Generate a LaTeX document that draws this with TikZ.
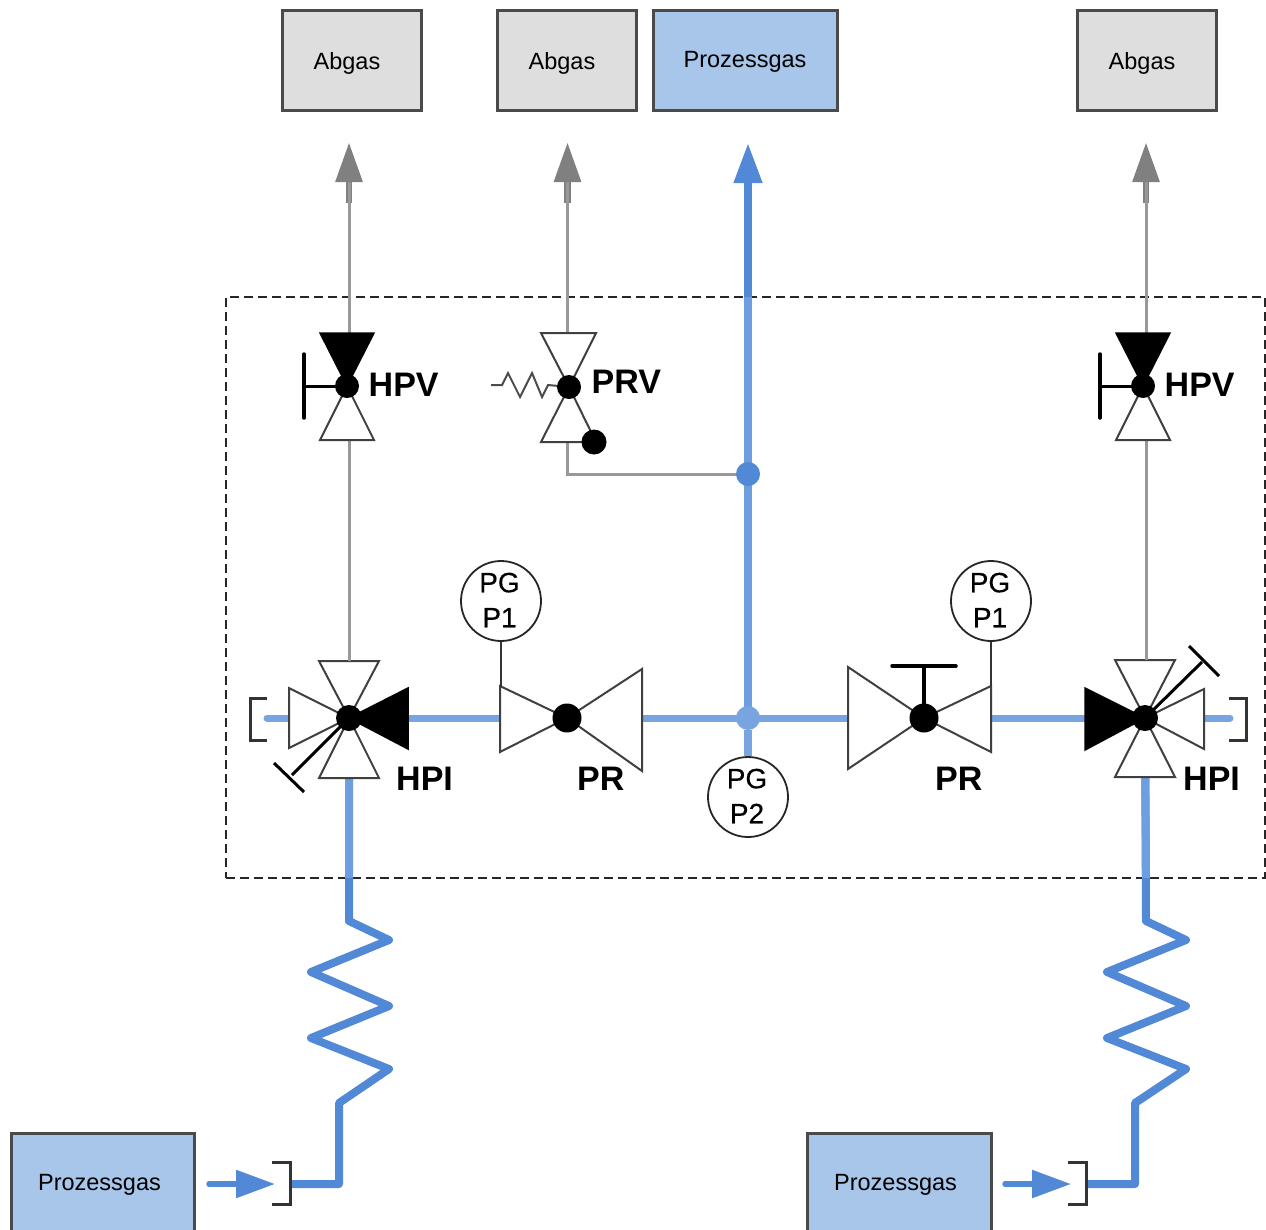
\documentclass[tikz,border=0pt]{standalone}
\usepackage{fontspec}
\setmainfont{Liberation Sans}
\newfontfamily\gaugefont[FakeBold=0.35]{Liberation Sans}
\usetikzlibrary{arrows.meta}
\definecolor{pipeL}{HTML}{78A5E0}
\definecolor{pipeM}{HTML}{6C9EE0}
\definecolor{pipeD}{HTML}{5289D6}
\definecolor{lineG}{HTML}{999999}
\definecolor{headG}{HTML}{808080}
\definecolor{boxG}{HTML}{DEDEDE}
\definecolor{boxB}{HTML}{A8C5EA}
\definecolor{edgeK}{HTML}{4A4A4A}
\definecolor{brk}{HTML}{333333}
\tikzset{
  box/.style={draw=edgeK,line width=3pt,minimum width=#1,minimum height=100pt,inner sep=0pt},
  gbox/.style={box=#1,fill=boxG},
  bbox/.style={box=#1,fill=boxB},
  boxtext/.style={inner sep=0pt,font=\fontsize{23.5}{28}\selectfont,text=black},
  tag/.style={inner sep=0pt,font=\fontsize{34}{40}\selectfont\bfseries,text=black},
  hub/.style={circle,fill=black,inner sep=0pt,minimum size=#1},
  gauge/.style={circle,draw=black!85,fill=white,line width=1.8pt,minimum size=80pt,inner sep=0pt},
  gtext/.style={inner sep=0pt,align=center,font=\fontsize{28}{35}\selectfont\gaugefont,text=black},
  tri/.style={draw=black!75,fill=white,line width=2pt,line join=miter},
  blk/.style={draw=black,fill=black,line width=1.5pt,line join=miter},
  thick pipe/.style={draw=pipeD,line width=8pt,line join=round},
  main pipe/.style={draw=pipeL,line width=7pt,line cap=round},
  vent/.style={draw=lineG,line width=3pt},
  stem/.style={draw=headG,line width=6.5pt},
  ventarrow/.style={vent,-{Triangle[length=39pt,width=27pt,color=headG]}},
  bluearrow/.style={draw=pipeD,line width=7.5pt,-{Triangle[length=40pt,width=27pt,color=pipeD]}},
  inarrow/.style={draw=pipeD,line width=5.5pt,line cap=round,-{Triangle[length=39pt,width=27pt,color=pipeD]}},
  bracket/.style={draw=brk,line width=3pt},
  handle/.style={draw=black,line width=3pt},
  thinline/.style={draw=black!80,line width=1.8pt},
}
\begin{document}
\begin{tikzpicture}[x=1pt,y=-1pt]
\useasboundingbox (0,0) rectangle (1266,1229);
% boxes
\node[gbox=139pt] (a1) at (351.5,60) {};
\node[gbox=139pt] (a2) at (566.5,60) {};
\node[bbox=184pt] (pt) at (745,60) {};
\node[gbox=139pt] (a3) at (1146.5,60) {};
\node[bbox=183pt] (pl) at (102.5,1183) {};
\node[bbox=184pt] (pr) at (899,1183) {};
\node[boxtext] (ta1) at (347,63) {Abgas};
\node[boxtext] (ta2) at (562,63) {Abgas};
\node[boxtext] (tpt) at (745,61.5) {Prozessgas};
\node[boxtext] (ta3) at (1142,63) {Abgas};
\node[boxtext] (tpl) at (99.5,1184.5) {Prozessgas};
\node[boxtext] (tpr) at (895.5,1184.5) {Prozessgas};
% dashed boundary
\node[draw=black!85,dashed,dash pattern=on 9pt off 5pt,line width=1.8pt,minimum width=1039pt,minimum height=581pt,inner sep=0pt] (frame) at (745.5,587.5) {};
% key coordinates
\coordinate (HL) at (349,718);
\coordinate (HR) at (1145,718);
\coordinate (JM) at (748,718);
\coordinate (JU) at (748,474);
\coordinate (tipL) at (349,143);
\coordinate (tipP) at (567.5,143);
\coordinate (tipM) at (748,143);
\coordinate (tipR) at (1146,143);
% vent lines
\draw[stem] (349,203) -- (349,175);
\draw[stem] (1146,203) -- (1146,175);
\draw[stem] (567.5,203) -- (567.5,175);
\draw[ventarrow] (349,661) -- (tipL);
\draw[ventarrow] (1146,660) -- (tipR);
\draw[ventarrow] (567.5,333) -- (tipP);
\draw[vent] (567.5,442) |- (JU);
% main pipes
\draw[bluearrow] (JM) -- (tipM);
\draw[draw=pipeM,line width=7.5pt] (JM) -- (748,297);
\draw[main pipe,line cap=butt] (HL) -- (HR);
\draw[main pipe] (267,718) -- (HL);
\draw[main pipe] (HR) -- (1230,718);
% inlet coils
\coordinate (brL) at (290,1184);
\coordinate (brR) at (1086,1184);
\draw[thick pipe] (HL) -- (349,921) -- (389,940) -- (311,972) -- (389,1006) -- (311,1038) -- (389,1069) -- (339,1103) -- (339,1184) -- (brL);
\draw[thick pipe] (HR) -- (1146,921) -- (1186,940) -- (1107,972) -- (1186,1006) -- (1107,1038) -- (1186,1069) -- (1135,1103) -- (1135,1184) -- (brR);
\draw[draw=pipeM,line width=8pt] (HL) -- (349,878);
\draw[draw=pipeM,line width=8pt] (HR) -- (1146,878);
\coordinate (inL) at (209,1184);
\coordinate (inR) at (1005,1184);
\draw[inarrow] (inL) -- (275,1184);
\draw[inarrow] (inR) -- (1071,1184);
\draw[bracket] (272,1162) -- (290,1162) -- (290,1204) -- (272,1204);
\draw[bracket] (1068,1162) -- (1086,1162) -- (1086,1204) -- (1068,1204);
\draw[bracket] (267,698) -- (250,698) -- (250,740) -- (267,740);
\draw[bracket] (1229,698) -- (1246,698) -- (1246,740) -- (1229,740);
% left HPI
\draw[tri] (HL) -- (319,661) -- (379,661) -- cycle;
\draw[tri] (HL) -- (319,778) -- (379,778) -- cycle;
\draw[tri] (HL) -- (289,688) -- (289,748) -- cycle;
\draw[blk] (HL) -- (408,688) -- (408,749) -- cycle;
\draw[handle] (HL) -- (292,775);
\draw[handle] (274,763) -- (304,792);
\node[hub=26pt] (hl) at (HL) {};
% right HPI
\draw[tri] (HR) -- (1115,660) -- (1175,660) -- cycle;
\draw[tri] (HR) -- (1115,777) -- (1175,777) -- cycle;
\draw[tri] (HR) -- (1204,689) -- (1204,749) -- cycle;
\draw[blk] (HR) -- (1085,688) -- (1085,750) -- cycle;
\draw[handle] (HR) -- (1202,662);
\draw[handle] (1189,646) -- (1219,676);
\node[hub=26pt] (hr) at (HR) {};
% PR left
\coordinate (PL) at (567,718);
\draw[tri] (PL) -- (500,686) -- (500,752) -- cycle;
\draw[tri] (PL) -- (642,669) -- (642,771) -- cycle;
\node[hub=29pt] (prl) at (PL) {};
% PR right
\coordinate (PR) at (924,718);
\draw[tri] (PR) -- (848,667) -- (848,769) -- cycle;
\draw[tri] (PR) -- (991,686) -- (991,752) -- cycle;
\draw[handle,line width=3.5pt] (PR) -- (924,666);
\draw[handle,line width=3.5pt,line cap=round] (892,666) -- (956,666);
\node[hub=29pt] (prr) at (PR) {};
% gauges
\node[gauge] (g1) at (501,601) {};
\node[gauge] (g2) at (991,601) {};
\node[gauge] (g3) at (748,797) {};
\node[gtext] (tg1) at ([shift={(-1.5,-1)}]g1) {PG\\P1};
\node[gtext] (tg2) at ([shift={(-1,-1)}]g2) {PG\\P1};
\node[gtext] (tg3) at ([shift={(-1,-1)}]g3) {PG\\P2};
\draw[thinline] (g1) -- (501,686);
\draw[thinline] (g2) -- (991,686);
\node[circle,fill=pipeL,inner sep=0pt,minimum size=24pt] (jm) at (JM) {};
\node[circle,fill=pipeD,inner sep=0pt,minimum size=24pt] (ju) at (JU) {};
\draw[draw=pipeL,line width=7.5pt] (jm) -- (g3);
% HPV left
\coordinate (VL) at (347,386);
\draw[vent] (349,440) -- (349,661);
\draw[blk] (VL) -- (320,333) -- (374,333) -- cycle;
\draw[tri] (VL) -- (320,440) -- (374,440) -- cycle;
\draw[handle] (VL) -- (304,386);
\draw[handle,line width=3.5pt,line cap=round] (304,354) -- (304,418);
\node[hub=24pt] (vl) at (VL) {};
% HPV right
\coordinate (VR) at (1143,386);
\draw[vent] (1146,440) -- (1146,660);
\draw[blk] (VR) -- (1116,333) -- (1170,333) -- cycle;
\draw[tri] (VR) -- (1116,440) -- (1170,440) -- cycle;
\draw[handle] (VR) -- (1100,386);
\draw[handle,line width=3.5pt,line cap=round] (1100,354) -- (1100,418);
\node[hub=24pt] (vr) at (VR) {};
% PRV
\coordinate (VP) at (569,387);
\draw[tri] (VP) -- (541,333) -- (596,333) -- cycle;
\draw[tri] (VP) -- (541,442) -- (596,442) -- cycle;
\draw[draw=black!70,line width=2pt] (491,385) -- (502,385) -- (508,373) -- (520,397) -- (532,373) -- (542,397) -- (548,385) -- (VP);
\node[hub=24pt] (vp) at (VP) {};
\node[hub=25pt] (dot) at (594,442) {};
% labels
\node[tag,anchor=west] (l1) at (368.5,385) {HPV};
\node[tag,anchor=west] (l2) at (591.5,382) {PRV};
\node[tag,anchor=west] (l3) at (1164.5,385) {HPV};
\node[tag,anchor=west] (l4) at (396,779) {HPI};
\node[tag,anchor=west] (l5) at (577,779) {PR};
\node[tag,anchor=west] (l6) at (935,779) {PR};
\node[tag,anchor=west] (l7) at (1183,779) {HPI};
\end{tikzpicture}
\end{document}
